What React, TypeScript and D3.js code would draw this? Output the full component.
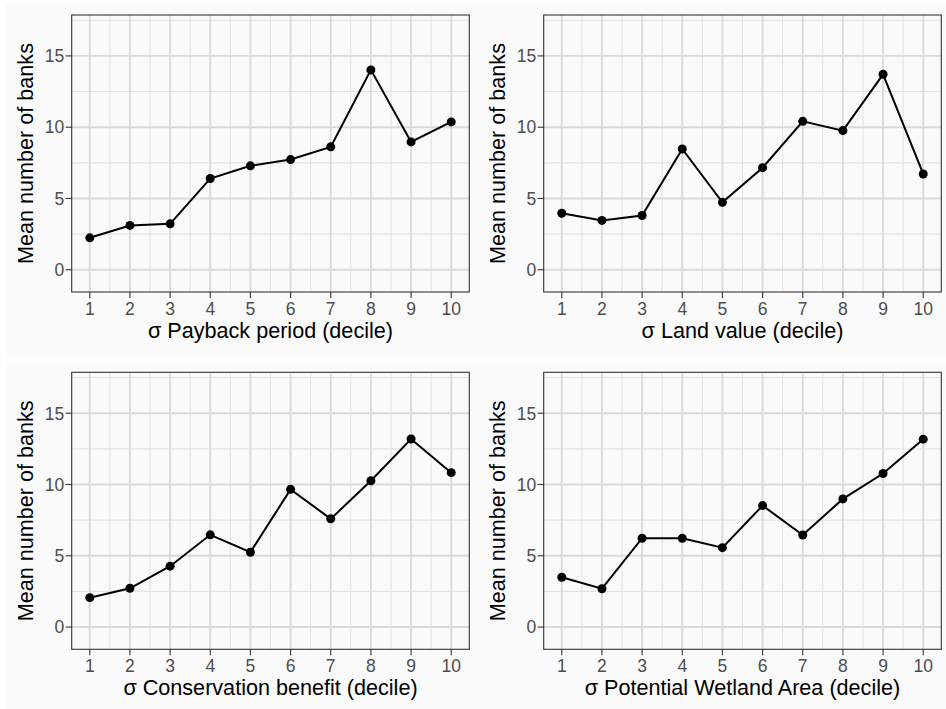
import React from "react";
import * as d3 from "d3";

// Decile positions shared by every panel
const deciles = [1, 2, 3, 4, 5, 6, 7, 8, 9, 10];

// Mean number of banks per decile, one series per driver
const paybackPeriod = [2.24, 3.11, 3.22, 6.4, 7.29, 7.73, 8.62, 14.02, 8.97, 10.37];
const landValue = [3.96, 3.46, 3.81, 8.47, 4.73, 7.16, 10.41, 9.76, 13.71, 6.72];
const conservationBenefit = [2.06, 2.72, 4.27, 6.47, 5.25, 9.66, 7.59, 10.26, 13.19, 10.83];
const wetlandArea = [3.49, 2.69, 6.23, 6.23, 5.57, 8.52, 6.46, 8.99, 10.77, 13.18];

const xTitles = [
  "σ Payback period (decile)",
  "σ Land value (decile)",
  "σ Conservation benefit (decile)",
  "σ Potential Wetland Area (decile)",
];
const yTitle = "Mean number of banks";
const yTicks = [0, 5, 10, 15];
const yMinor = [2.5, 7.5, 12.5, 17.5];

const W = 946;
const H = 709;
const FONT = "'Liberation Sans', Arial, Helvetica, sans-serif";

// Panel geometry
const PW = 397.6;
const PH = 277;
const panels = [
  { x: 71.7, y: 15, values: paybackPeriod, title: xTitles[0] },
  { x: 543.7, y: 15, values: landValue, title: xTitles[1] },
  { x: 71.7, y: 372.3, values: conservationBenefit, title: xTitles[2] },
  { x: 543.7, y: 372.3, values: wetlandArea, title: xTitles[3] },
];

function Panel({ x, y, values, title }: { x: number; y: number; values: number[]; title: string }) {
  const xs = d3.scaleLinear().domain([0.55, 10.45]).range([0, PW]);
  const ys = d3.scaleLinear().domain([-1.56, 17.87]).range([PH, 0]);
  const pts: [number, number][] = deciles.map((d, i) => [xs(d), ys(values[i])]);
  const line = d3.line()(pts) ?? "";
  const xMinor = d3.range(0.5, 11, 1).filter((v) => xs(v) > 0 && xs(v) < PW);
  return (
    <g transform={`translate(${x},${y})`}>
      <rect x={0} y={0} width={PW} height={PH} fill="#FAFAFA" />
      {yMinor.map((v) => (
        <line key={"ym" + v} x1={0} x2={PW} y1={ys(v)} y2={ys(v)} stroke="#E3E3E3" strokeWidth={1.1} />
      ))}
      {xMinor.map((v) => (
        <line key={"xm" + v} y1={0} y2={PH} x1={xs(v)} x2={xs(v)} stroke="#E3E3E3" strokeWidth={1.1} />
      ))}
      {yTicks.map((v) => (
        <line key={"yg" + v} x1={0} x2={PW} y1={ys(v)} y2={ys(v)} stroke="#DADADA" strokeWidth={1.9} />
      ))}
      {deciles.map((v) => (
        <line key={"xg" + v} y1={0} y2={PH} x1={xs(v)} x2={xs(v)} stroke="#DADADA" strokeWidth={1.9} />
      ))}
      <path d={line} fill="none" stroke="#000" strokeWidth={2} />
      {pts.map(([px, py], i) => (
        <circle key={i} cx={px} cy={py} r={4.5} fill="#000" />
      ))}
      <rect x={0} y={0} width={PW} height={PH} fill="none" stroke="#333" strokeWidth={1.1} />
      {yTicks.map((v) => (
        <g key={"yt" + v}>
          <line x1={-6} x2={0} y1={ys(v)} y2={ys(v)} stroke="#333" strokeWidth={1.1} />
          <text x={-7.5} y={ys(v)} dy="0.36em" textAnchor="end" fontSize={17.5} fill="#4D4D4D" fontFamily={FONT}>
            {v}
          </text>
        </g>
      ))}
      {deciles.map((v) => (
        <g key={"xt" + v}>
          <line y1={PH} y2={PH + 6} x1={xs(v)} x2={xs(v)} stroke="#333" strokeWidth={1.1} />
          <text x={xs(v)} y={PH + 22.5} textAnchor="middle" fontSize={17.5} fill="#4D4D4D" fontFamily={FONT}>
            {v}
          </text>
        </g>
      ))}
      <text x={PW / 2} y={PH + 46} textAnchor="middle" fontSize={21.6} fill="#000" fontFamily={FONT}>
        {title}
      </text>
      <text
        transform={`translate(${-38.4},${PH / 2}) rotate(-90)`}
        textAnchor="middle"
        fontSize={21.6}
        fill="#000"
        fontFamily={FONT}
      >
        {yTitle}
      </text>
    </g>
  );
}

export default function App() {
  return (
    <svg width={W} height={H} style={{ display: "block", position: "absolute", left: 0, top: 0 }}>
      <rect x={0} y={0} width={W} height={H} fill="#FFFFFF" />
      <rect x={6} y={3} width={W - 6} height={355} fill="#FAFAFA" />
      <rect x={6} y={362} width={W - 6} height={H - 362} fill="#FAFAFA" />
      {panels.map((p, i) => (
        <Panel key={i} {...p} />
      ))}
    </svg>
  );
}
